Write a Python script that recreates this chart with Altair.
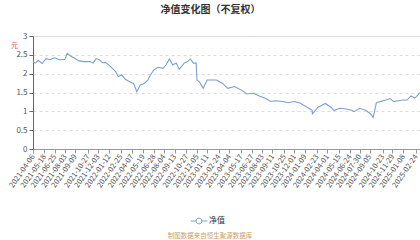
import altair as alt
import pandas as pd

dates = [
    "2021-04-06", "2021-04-14", "2021-04-26", "2021-05-10", "2021-05-24", "2021-06-08", "2021-06-25",
    "2021-07-13", "2021-08-02", "2021-08-11", "2021-08-23", "2021-09-09", "2021-09-23", "2021-10-13",
    "2021-11-04", "2021-11-15", "2021-11-26", "2021-12-08", "2021-12-20", "2021-12-31", "2022-01-20",
    "2022-02-07", "2022-02-16", "2022-03-01", "2022-03-14", "2022-04-01", "2022-04-14", "2022-04-26",
    "2022-05-09", "2022-05-23", "2022-06-06", "2022-06-15", "2022-06-28", "2022-07-14", "2022-08-01",
    "2022-08-12", "2022-08-25", "2022-09-06", "2022-09-19", "2022-09-30", "2022-10-19", "2022-10-31",
    "2022-11-10", "2022-11-22", "2022-12-02", "2022-12-05", "2022-12-14", "2022-12-28", "2023-01-12",
    "2023-01-19", "2023-02-15", "2023-03-10", "2023-03-29", "2023-04-24", "2023-05-22", "2023-06-08",
    "2023-07-03", "2023-07-24", "2023-08-17", "2023-09-04", "2023-09-22", "2023-10-20", "2023-11-07",
    "2023-12-01", "2023-12-22", "2024-01-17", "2024-02-05", "2024-02-06", "2024-02-27", "2024-03-25",
    "2024-04-15", "2024-04-26", "2024-05-17", "2024-06-11", "2024-07-01", "2024-07-09", "2024-07-31",
    "2024-08-23", "2024-09-09", "2024-09-18", "2024-09-26", "2024-09-30", "2024-11-04", "2024-11-21",
    "2024-12-03", "2024-12-20", "2025-01-08", "2025-01-22", "2025-02-06", "2025-02-20", "2025-03-10",
]
nav = [
    2.32, 2.28, 2.35, 2.27, 2.40, 2.37, 2.42,
    2.37, 2.38, 2.54, 2.47, 2.40, 2.34, 2.32,
    2.32, 2.28, 2.40, 2.37, 2.29, 2.30, 2.18,
    2.05, 1.92, 1.97, 1.85, 1.78, 1.74, 1.52,
    1.70, 1.74, 1.83, 1.96, 2.10, 2.17, 2.14,
    2.23, 2.39, 2.23, 2.28, 2.12, 2.28, 2.32,
    2.39, 2.28, 2.28, 1.83, 1.78, 1.61, 1.83,
    1.83, 1.83, 1.74, 1.61, 1.66, 1.55, 1.46,
    1.48, 1.41, 1.34, 1.26, 1.28, 1.26, 1.23,
    1.26, 1.22, 1.11, 1.03, 0.93, 1.11, 1.21,
    1.11, 1.02, 1.08, 1.06, 1.03, 0.99, 1.08,
    1.02, 0.93, 0.84, 1.08, 1.23, 1.30, 1.34,
    1.26, 1.28, 1.30, 1.30, 1.41, 1.35, 1.48,
]
tick_labels = [
    "2021-04-06", "2021-05-18", "2021-06-25", "2021-08-03", "2021-09-09", "2021-10-27", "2021-12-03",
    "2022-01-12", "2022-02-25", "2022-04-07", "2022-05-19", "2022-06-28", "2022-08-04", "2022-09-13",
    "2022-10-27", "2022-12-05", "2023-01-11", "2023-02-24", "2023-04-04", "2023-05-17", "2023-06-27",
    "2023-08-03", "2023-09-11", "2023-10-25", "2023-12-01", "2024-01-09", "2024-02-23", "2024-04-01",
    "2024-05-15", "2024-06-24", "2024-07-30", "2024-09-05", "2024-10-23", "2024-11-29", "2025-01-08",
    "2025-02-24",
]
series_name = "净值"
title_text = "净值变化图（不复权）"
source_text = "制图数据来自恒生聚源数据库"
unit_text = "元"

df = pd.DataFrame({"date": dates, "nav": nav, "series": series_name})


def dt(s):
    y, m, d = s.split("-")
    return alt.DateTime(year=int(y), month=int(m), date=int(d), utc=True)


tick_values = [dt(s) for s in tick_labels]
line_color = "#7B9FD6"

symbol_path = "M-1.6,0L-0.55,0M0.55,0L1.6,0M-0.55,0A0.55,0.55 0 1,1 0.55,0A0.55,0.55 0 1,1 -0.55,0Z"

line = alt.Chart(df).mark_line(strokeWidth=1.1).encode(
    x=alt.X(
        "date:T",
        scale=alt.Scale(type="utc", domain=[dt("2021-04-06"), dt("2025-03-11")]),
        axis=alt.Axis(
            values=tick_values,
            format="%Y-%m-%d",
            labelAngle=305,
            labelFontSize=7.5,
            labelColor="#555555",
            labelPadding=2,
            domainColor="#999999",
            tickColor="#999999",
            tickSize=4,
            grid=False,
            title=None,
            labelOverlap=False,
            labelFont="Noto Sans CJK SC",
        ),
    ),
    y=alt.Y(
        "nav:Q",
        scale=alt.Scale(domain=[0, 3], nice=False),
        axis=alt.Axis(
            values=[0, 0.5, 1, 1.5, 2, 2.5, 3],
            format="~g",
            labelFontSize=8,
            labelColor="#555555",
            domainColor="#666666",
            tickColor="#666666",
            tickSize=4,
            gridColor="#DDDDDD",
            gridDash=[3, 3],
            title=unit_text,
            titleColor="#E05050",
            titleFontSize=7,
            titleFontWeight="normal",
            titleAngle=0,
            titleX=-19,
            titleY=12,
            labelFont="Noto Sans CJK SC",
            titleFont="Noto Sans CJK SC",
        ),
    ),
    color=alt.Color(
        "series:N",
        scale=alt.Scale(domain=[series_name], range=[line_color]),
        legend=alt.Legend(
            title=None,
            orient="none",
            legendX=160,
            legendY=179,
            symbolType=symbol_path,
            symbolSize=110,
            symbolFillColor="#FFFFFF",
            symbolStrokeWidth=1,
            labelFontSize=8,
            labelColor="#333333",
            labelFont="Noto Sans CJK SC",
        ),
    ),
)

src = alt.Chart(pd.DataFrame({"t": [source_text]})).mark_text(
    fontSize=6.5, color="#C9A063", font="Noto Sans CJK SC", align="center", baseline="middle"
).encode(text="t:N", x=alt.value(177), y=alt.value(200))

chart = alt.layer(line, src).properties(
    width=387,
    height=113,
    title=alt.TitleParams(
        text=title_text, fontSize=10, fontWeight="bold", color="#333333",
        font="Noto Sans CJK SC", anchor="middle", dx=-16, offset=17,
    ),
    padding={"left": 33, "top": 36, "right": 0, "bottom": 91},
    autosize=alt.AutoSizeParams(type="none"),
).configure_view(stroke=None).configure(background="#FFFFFF")

chart.save("out.html", embed_options={"renderer": "svg", "actions": False})
